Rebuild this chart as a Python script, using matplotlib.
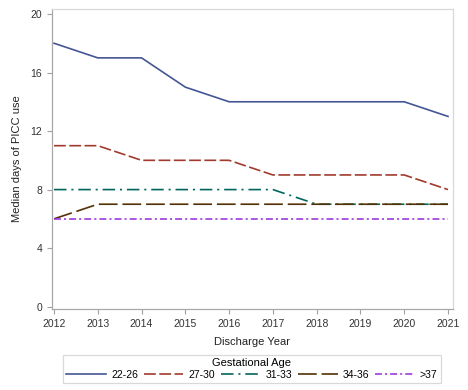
import matplotlib
matplotlib.use("Agg")
import matplotlib.pyplot as plt

plt.rcParams['font.family'] = ['Liberation Sans', 'DejaVu Sans']
plt.rcParams['lines.scale_dashes'] = False

years = [2012, 2013, 2014, 2015, 2016, 2017, 2018, 2019, 2020, 2021]
labels = ['22-26', '27-30', '31-33', '34-36', '>37']
ga_22_26 = [18, 17, 17, 15, 14, 14, 14, 14, 14, 13]
ga_27_30 = [11, 11, 10, 10, 10, 9, 9, 9, 9, 8]
ga_31_33 = [8, 8, 8, 8, 8, 8, 7, 7, 7, 7]
ga_34_36 = [6, 7, 7, 7, 7, 7, 7, 7, 7, 7]
ga_37 = [6, 6, 6, 6, 6, 6, 6, 6, 6, 6]
series = [ga_22_26, ga_27_30, ga_31_33, ga_34_36, ga_37]
colors = ['#445694', '#A23A2E', '#01665E', '#543005', '#9D3CDB']
dashes = [None, (0, (8.5, 2.5)), (0, (9, 3.5, 1.5, 3.5)), (0, (13.5, 3.5)), (0, (5, 2.2, 1.5, 2.2))]

fig = plt.figure(figsize=(4.68, 3.9), dpi=100)
ax = fig.add_axes([52/468, 1-309/390, 401/468, 300/390])

for vals, lab, c, d in zip(series, labels, colors, dashes):
    kw = {}
    if d is not None:
        kw['linestyle'] = d
    ax.plot(years, vals, color=c, lw=1.2, label=lab, **kw)

ax.set_xlim(2012 - 2/43.8, 2021 + 5/43.8)
ax.set_ylim(-0.16, 20.34)
ax.set_xticks(years)
ax.set_yticks([0, 4, 8, 12, 16, 20])
ax.tick_params(axis='both', labelsize=7.5, colors='#333333', length=3.5, width=0.8, direction='out')
ax.tick_params(color='#a0a0a0')
for s in ['left', 'bottom']:
    ax.spines[s].set_color('#a8a8a8')
for s in ['top', 'right']:
    ax.spines[s].set_color('#d8d8d8')
for s in ax.spines.values():
    s.set_linewidth(0.9)

ax.set_xlabel('Discharge Year', fontsize=8, color='#222222', labelpad=6)
ax.set_ylabel('Median days of PICC use', fontsize=8, color='#222222', labelpad=6)

leg = fig.legend(*ax.get_legend_handles_labels(), loc='center', bbox_to_anchor=(252/468, 1-368.7/390),
                 ncol=5, title='Gestational Age', fontsize=7.5, title_fontsize=8,
                 frameon=True, fancybox=False, edgecolor='#d0d0d0', handlelength=3.8,
                 handletextpad=0.5, columnspacing=0.55, borderpad=0.3, labelspacing=0.2)
leg.get_frame().set_linewidth(0.9)

fig.savefig('out.png', dpi=100)
